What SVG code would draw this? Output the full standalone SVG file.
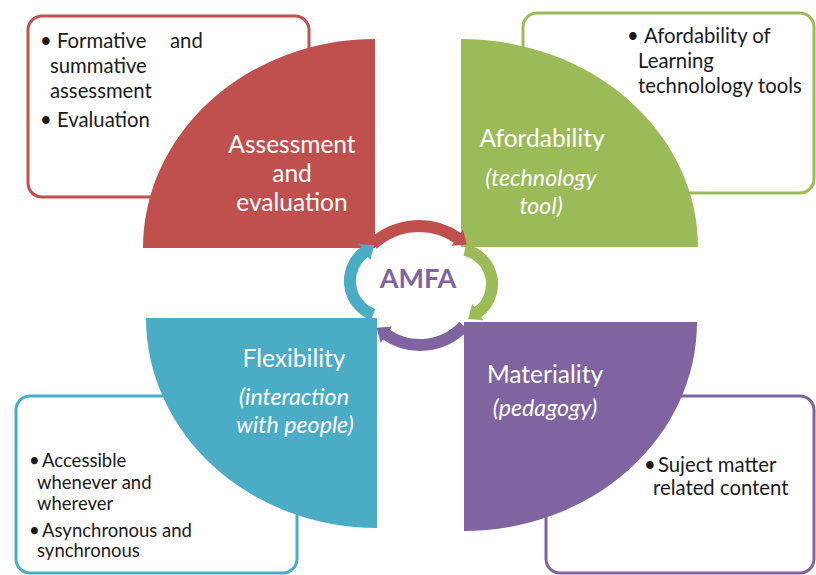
<svg xmlns="http://www.w3.org/2000/svg" width="816" height="575" viewBox="0 0 816 575">
<style>
.box{fill:#fff;stroke-width:3}
.qt{fill:#fff;font-family:Lato,"Liberation Sans",sans-serif;font-size:24.5px;text-anchor:middle}
.qi{font-style:italic;font-size:23.2px}
.bt{fill:#1a1a1a;font-family:Lato,"Liberation Sans",sans-serif;font-size:20.3px}
.bs{font-size:18.5px}
.arc{fill:none;stroke-width:12}
</style>
<defs>
<marker id="hR" markerUnits="userSpaceOnUse" viewBox="0 0 12 20" refX="1" refY="10" markerWidth="12" markerHeight="20" orient="auto"><path d="M0,0 L12,10 L0,20 Z" fill="#C0504D"/></marker>
<marker id="hG" markerUnits="userSpaceOnUse" viewBox="0 0 12 20" refX="1" refY="10" markerWidth="12" markerHeight="20" orient="auto"><path d="M0,0 L12,10 L0,20 Z" fill="#9BBB59"/></marker>
<marker id="hP" markerUnits="userSpaceOnUse" viewBox="0 0 12 20" refX="1" refY="10" markerWidth="12" markerHeight="20" orient="auto"><path d="M0,0 L12,10 L0,20 Z" fill="#8064A2"/></marker>
<marker id="hB" markerUnits="userSpaceOnUse" viewBox="0 0 12 20" refX="1" refY="10" markerWidth="12" markerHeight="20" orient="auto"><path d="M0,0 L12,10 L0,20 Z" fill="#4BACC6"/></marker>
</defs>
<rect width="816" height="575" fill="#fff"/>

<g id="assessment">
<rect class="box" x="28" y="16" width="281" height="181" rx="14" stroke="#C0504D"/>
<path d="M375,248 L143,248 A232,209 0 0 1 375,39 Z" fill="#C0504D"/>
<text class="qt" x="292" y="153">Assessment</text>
<text class="qt" x="292" y="182">and</text>
<text class="qt" x="292" y="211">evaluation</text>
<text class="bt" x="40" y="48">•</text>
<text class="bt" x="57" y="48">Formative</text>
<text class="bt" x="170" y="48">and</text>
<text class="bt" x="50" y="73">summative</text>
<text class="bt" x="50" y="98">assessment</text>
<text class="bt" x="40" y="127">•</text>
<text class="bt" x="57" y="127">Evaluation</text>
</g>

<g id="affordability">
<rect class="box" x="523" y="13" width="291" height="180" rx="14" stroke="#9BBB59"/>
<path d="M461,247 L461,39 A237,208 0 0 1 698,247 Z" fill="#9BBB59"/>
<text class="qt" x="542" y="147">Afordability</text>
<text class="qt qi" x="541" y="186">(technology</text>
<text class="qt qi" x="541" y="214">tool)</text>
<text class="bt" x="627" y="43">•</text>
<text class="bt" x="644" y="43">Afordability of</text>
<text class="bt" x="638" y="68">Learning</text>
<text class="bt" x="638" y="93">technolology tools</text>
</g>

<g id="flexibility">
<rect class="box" x="16" y="396" width="281" height="177" rx="14" stroke="#4BACC6"/>
<path d="M377,318 L377,528 A231,210 0 0 1 146,318 Z" fill="#4BACC6"/>
<text class="qt" x="294" y="367">Flexibility</text>
<text class="qt qi" x="294" y="405">(interaction</text>
<text class="qt qi" x="295" y="433">with people)</text>
<text class="bt bs" x="29" y="467">•</text>
<text class="bt bs" x="42" y="467">Accessible</text>
<text class="bt bs" x="37" y="489">whenever and</text>
<text class="bt bs" x="37" y="510">wherever</text>
<text class="bt bs" x="29" y="537">•</text>
<text class="bt bs" x="42" y="537">Asynchronous and</text>
<text class="bt bs" x="37" y="557">synchronous</text>
</g>

<g id="materiality">
<rect class="box" x="546" y="396" width="268" height="177" rx="14" stroke="#8064A2"/>
<path d="M464,322 L697,322 A233,209 0 0 1 464,531 Z" fill="#8064A2"/>
<text class="qt" x="545" y="383">Materiality</text>
<text class="qt qi" x="545" y="416">(pedagogy)</text>
<text class="bt" x="644" y="472">•</text>
<text class="bt" x="658" y="472">Suject matter</text>
<text class="bt" x="653" y="495">related content</text>
</g>

<g id="connectors">
<path class="arc" d="M372.6,244.3 A68,68 0 0 1 458,238.3" stroke="#C0504D" marker-end="url(#hR)"/>
<path class="arc" d="M464.9,249.9 A35,35 0 0 1 477.1,312.7" stroke="#9BBB59" marker-end="url(#hG)"/>
<path class="arc" d="M463.9,325.9 A60,60 0 0 1 385.6,334.1" stroke="#8064A2" marker-end="url(#hP)"/>
<path class="arc" d="M373.1,314.6 A36,36 0 0 1 365.3,251.5" stroke="#4BACC6" marker-end="url(#hB)"/>
</g>

<g id="amfa">
<text x="418" y="288" font-family="Lato,'Liberation Sans',sans-serif" font-size="27" font-weight="bold" fill="#8064A2" text-anchor="middle">AMFA</text>
</g>
</svg>
